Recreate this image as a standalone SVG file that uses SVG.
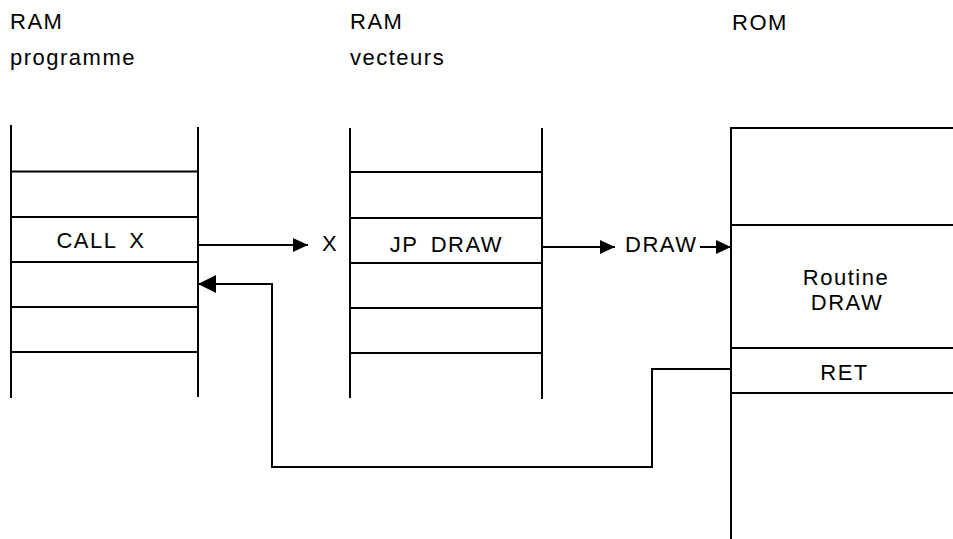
<svg xmlns="http://www.w3.org/2000/svg" width="953" height="539" viewBox="0 0 953 539">
<style>
.ln{stroke:#000;stroke-width:2;fill:none}
.t{font-family:"Liberation Sans",Arial,sans-serif;font-size:22px;letter-spacing:1.5px;fill:#000}
.m{text-anchor:middle}
.w{word-spacing:5px}
</style>
<defs>
<marker id="ah" markerUnits="userSpaceOnUse" markerWidth="15" markerHeight="14" refX="15" refY="7" orient="auto"><path d="M0,0 L15,7 L0,14 z" fill="#000"/></marker>
<marker id="ahb" markerUnits="userSpaceOnUse" markerWidth="18" markerHeight="18" refX="18" refY="9" orient="auto"><path d="M0,0 L18,9 L0,18 z" fill="#000"/></marker>
</defs>
<rect width="953" height="539" fill="#fff"/>
<g id="prog">
<text class="t" x="10" y="29">RAM</text>
<text class="t" x="10" y="65">programme</text>
<path class="ln" d="M11,125 V398 M198,127 V397 M11,171.5 H198 M11,217 H198 M11,262 H198 M11,307 H198 M11,352 H198"/>
<text class="t m w" x="101" y="248">CALL X</text>
</g>
<g id="vect">
<text class="t" x="350" y="29">RAM</text>
<text class="t" x="350" y="65">vecteurs</text>
<path class="ln" d="M350,128 V398 M542,128 V399 M350,172 H542 M350,218 H542 M350,263 H542 M350,308 H542 M350,353 H542"/>
<text class="t m w" x="446.5" y="252">JP DRAW</text>
</g>
<g id="rom">
<text class="t" x="732" y="30">ROM</text>
<path class="ln" d="M953,128 H731 V539 M731,225 H953 M731,348 H953 M731,393 H953"/>
<text class="t m" x="846" y="285">Routine</text>
<text class="t m" x="847" y="310">DRAW</text>
<text class="t m" x="844.5" y="380">RET</text>
</g>
<g id="labels">
<text class="t" x="322" y="251">X</text>
<text class="t" x="625" y="252">DRAW</text>
</g>
<g id="connectors">
<path class="ln" d="M198,245 H308" marker-end="url(#ah)"/>
<path class="ln" d="M542,247 H615" marker-end="url(#ah)"/>
<path class="ln" d="M700,247 H731" marker-end="url(#ah)"/>
<path class="ln" d="M731,369 H652 V467 H272 V284 H198" marker-end="url(#ahb)"/>
</g>
</svg>
